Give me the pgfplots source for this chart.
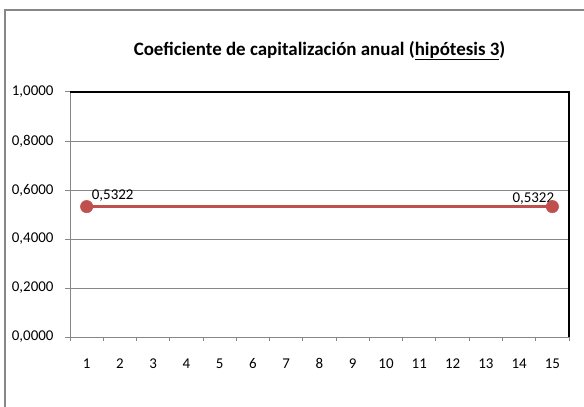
\documentclass[border=0pt]{standalone}
\usepackage{fontspec}
\setmainfont{Carlito}
\usepackage{pgfplots}
\pgfplotsset{compat=1.18}
\definecolor{exred}{HTML}{C0504D}
\definecolor{gridgray}{HTML}{878787}
\begin{document}
\begin{tikzpicture}[x=1bp,y=1bp]
\useasboundingbox (0,0) rectangle (584,406);
\draw[gridgray, line width=1.5bp] (5,-5) -- (5,396) -- (600,396);
\node[font=\fontsize{19}{22}\selectfont\bfseries, anchor=base] at (319.5,351) {Coeficiente de capitalización anual (\underline{hipótesis 3})};
\begin{axis}[at={(70bp,69bp)}, anchor=south west, scale only axis,
  width=499bp, height=245bp,
  xmin=0.5, xmax=15.5, ymin=0, ymax=1,
  xtick={1,...,15},
  minor xtick={0.5,1.5,...,15.5},
  major x tick style={draw=none},
  ytick={0,0.2,0.4,0.6,0.8,1},
  tick pos=left, tick align=outside,
  major tick length=5bp, minor tick length=4bp,
  tick style={gridgray, line width=1bp},
  ymajorgrids, grid style={gridgray, line width=1bp},
  axis line style={draw=none},
  yticklabel style={/pgf/number format/.cd, fixed, fixed zerofill, precision=4, use comma, assume math mode=true},
  xticklabel style={/pgf/number format/assume math mode=true},
  ticklabel style={font=\fontsize{15}{17}\selectfont},
  xticklabel shift=13bp,
  yticklabel shift=8bp,
  clip=false,
]
\draw[gridgray, line width=1bp] (rel axis cs:0,1) -- (rel axis cs:0,0) -- (rel axis cs:1,0);
\draw[black, line width=1.5bp] (rel axis cs:0,1) -- (rel axis cs:1,1) -- (rel axis cs:1,0);
\addplot[exred, line width=2.5bp, mark=*, mark size=6.2bp, mark options={line width=0.5bp}, mark indices={1,15}]
  coordinates {(1,0.5322) (2,0.5322) (3,0.5322) (4,0.5322) (5,0.5322) (6,0.5322) (7,0.5322) (8,0.5322) (9,0.5322) (10,0.5322) (11,0.5322) (12,0.5322) (13,0.5322) (14,0.5322) (15,0.5322)}
  node[pos=0, anchor=base west, black, font=\fontsize{15}{17}\selectfont, xshift=0.7bp, yshift=7.6bp] {0,5322}
  node[pos=1, anchor=base east, black, font=\fontsize{15}{17}\selectfont, xshift=6.3bp, yshift=4.6bp] {0,5322};
\end{axis}
\end{tikzpicture}
\end{document}
